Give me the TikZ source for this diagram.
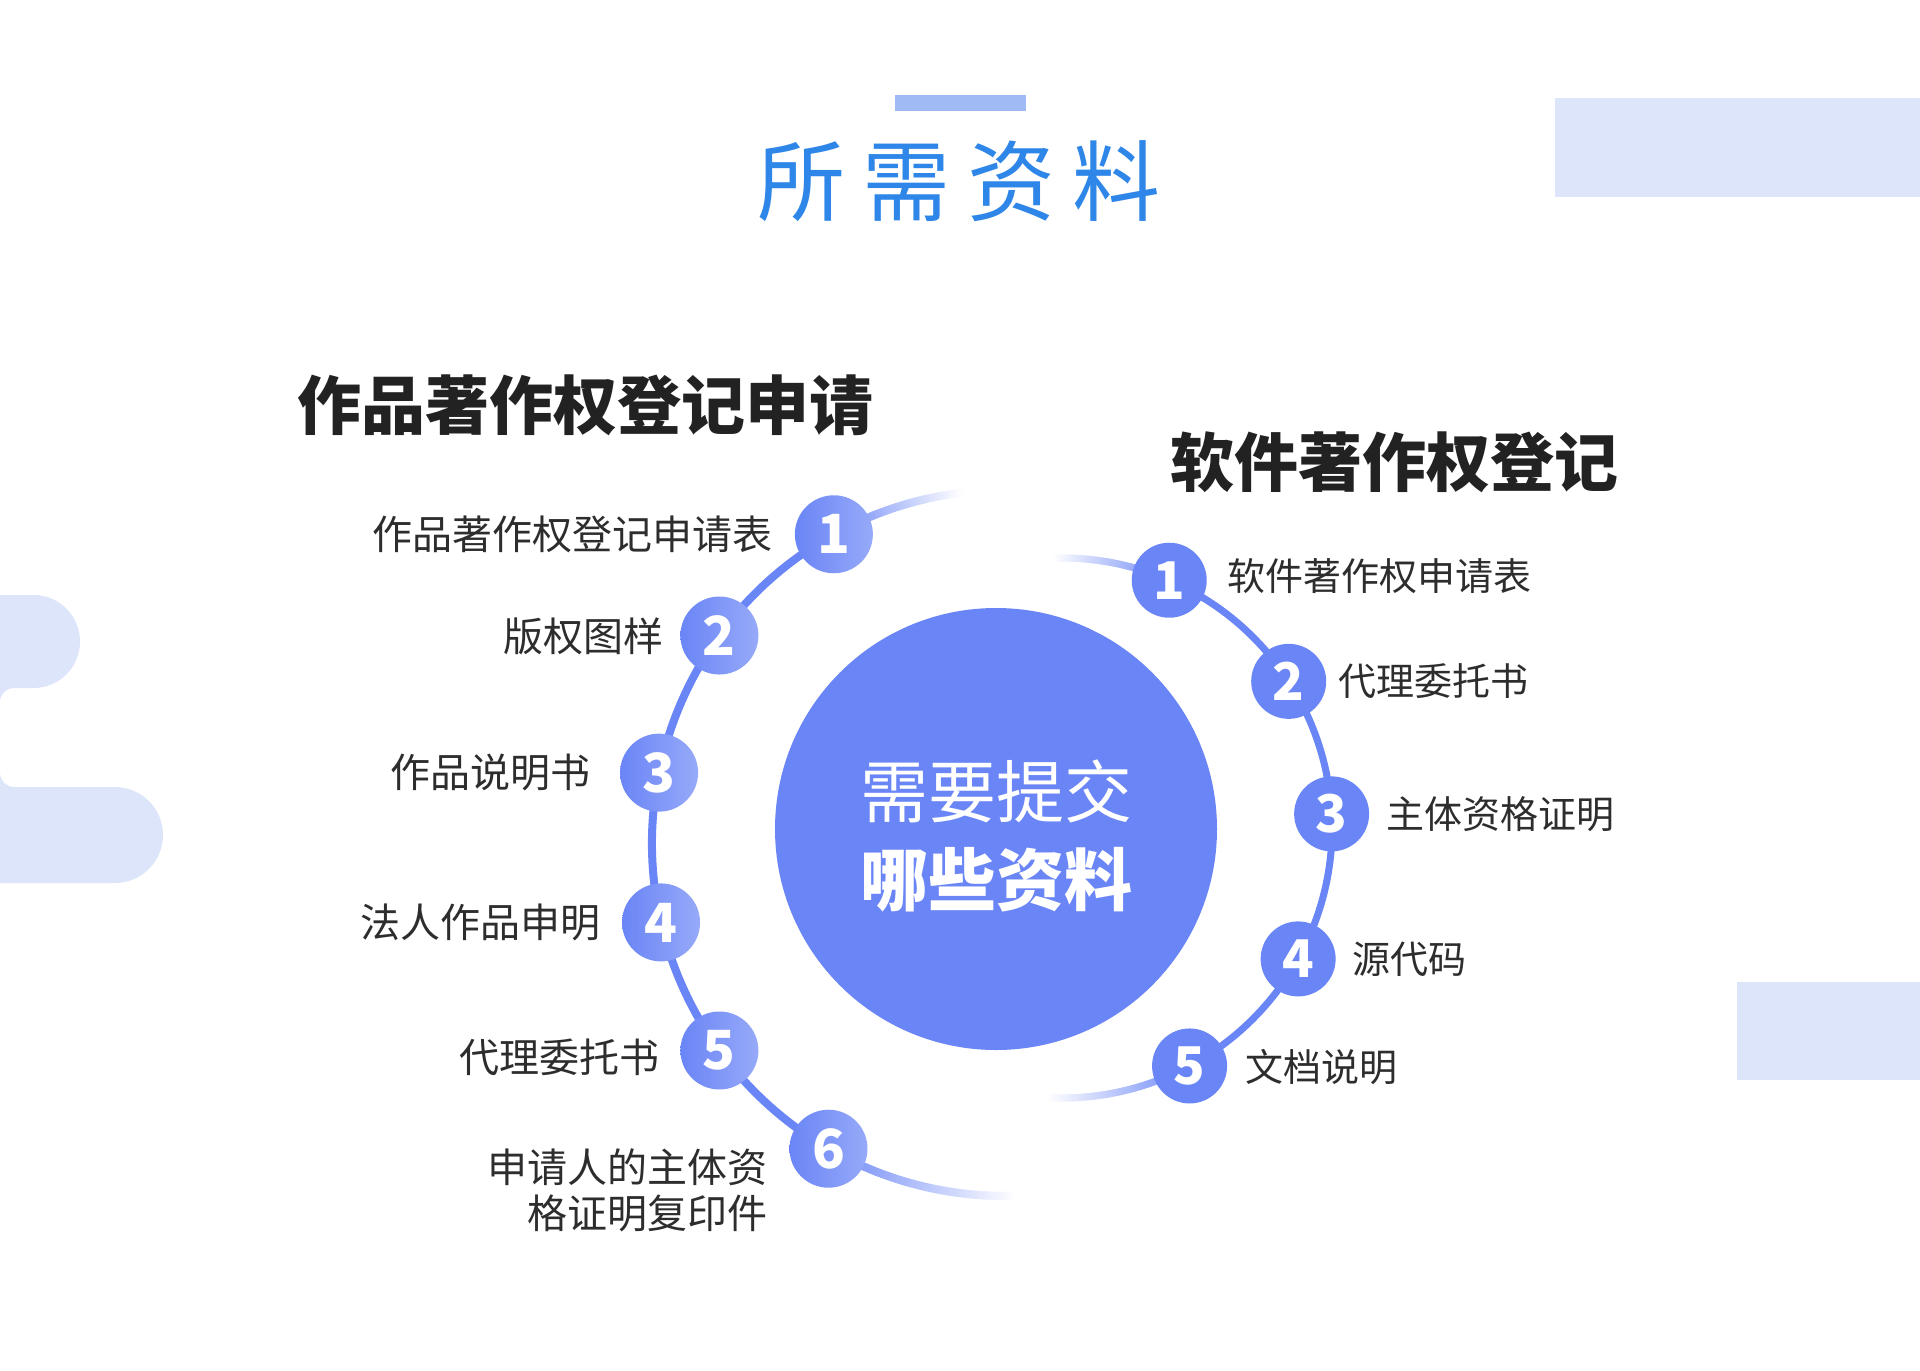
\documentclass[tikz,border=0pt]{standalone}
\usepackage{fontspec}
\setmainfont{Noto Sans CJK SC}
\newfontfamily\cjk{Noto Sans CJK SC}
\usetikzlibrary{calc}
\definecolor{mainblue}{RGB}{106,133,246}
\definecolor{titleblue}{RGB}{46,134,232}
\definecolor{barblue}{RGB}{160,186,245}
\definecolor{bgblue}{RGB}{221,229,251}
\definecolor{txt}{RGB}{45,45,45}
\definecolor{headtxt}{RGB}{34,34,34}
\tikzset{
  lbl/.style={font=\cjk\fontsize{40}{46}\selectfont, text=txt, inner sep=0pt},
  lblR/.style={font=\cjk\fontsize{38}{44}\selectfont, text=txt, inner sep=0pt},
  numL/.style={circle, minimum size=78pt, inner sep=0pt, left color=mainblue, right color=mainblue!70!white, text=white, font=\cjk\bfseries\fontsize{54}{54}\selectfont},
  numR/.style={circle, minimum size=75pt, inner sep=0pt, fill=mainblue, text=white, font=\cjk\bfseries\fontsize{52}{52}\selectfont},
  arcL/.style={draw=mainblue, line width=8pt},
  arcR/.style={draw=mainblue, line width=7pt},
  head/.style={font=\cjk\bfseries\fontsize{64}{70}\selectfont, text=headtxt, inner sep=0pt},
  bgshape/.style={fill=bgblue, draw=none}
}
\begin{document}
\begin{tikzpicture}[x=1pt,y=-1pt]
\useasboundingbox[fill=white] (0,0) rectangle (1920,1371);

% background decorations
\fill[bgshape] (1555,98) rectangle (1920,197);
\fill[bgshape] (1737,982) rectangle (1920,1080);
\fill[bgshape] (-20,595) -- (33.5,595) arc[start angle=-90, end angle=90, radius=46.5] -- (-20,688) -- cycle;
\fill[bgshape] (-20,787) -- (115,787) arc[start angle=-90, end angle=90, radius=48] -- (-20,883) -- cycle;
\fill[bgshape] (0,688) -- (14,688) arc[start angle=-90, end angle=-180, radius=14] -- cycle;
\fill[bgshape] (0,787) -- (14,787) arc[start angle=90, end angle=180, radius=14] -- cycle;

% title
\fill[barblue] (895,95) rectangle (1026,111);
\node[font=\cjk\fontsize{88}{90}\selectfont, text=titleblue, inner sep=0pt] (title) at (959,181) {所\hspace{17pt}需\hspace{17pt}资\hspace{17pt}料};

% headings
\node[head] (headL) at (585,405) {作品著作权登记申请};
\node[head] (headR) at (1394,462) {软件著作权登记};

% centers of arcs
\coordinate (CL) at (1005,843);
\coordinate (CR) at (1062,828);

% left arc main
\draw[arcL] (CL) ++(241:353) arc[start angle=241, end angle=120, radius=353];
% left arc fading tails (opaque segments mixed towards white)
\foreach \i in {0,...,43} {
  \pgfmathtruncatemacro\pc{100-(\i+0.5)*100/44}
  \draw[arcL, draw=mainblue!\pc!white] (CL) ++(241+\i*0.5:353) arc[start angle=241+\i*0.5, end angle=241.8+\i*0.5, radius=353];
}
\foreach \i in {0,...,63} {
  \pgfmathtruncatemacro\pc{100-(\i+0.5)*100/64}
  \draw[arcL, draw=mainblue!\pc!white] (CL) ++(120-\i*0.5:353) arc[start angle=120-\i*0.5, end angle=119.2-\i*0.5, radius=353];
}

% right arc main
\draw[arcR] (CR) ++(-66.6:270) arc[start angle=-66.6, end angle=61.8, radius=270];
\foreach \i in {0,...,50} {
  \pgfmathtruncatemacro\pc{100-(\i+0.5)*100/51}
  \draw[arcR, draw=mainblue!\pc!white] (CR) ++(-66.6-\i*0.5:270) arc[start angle=-66.6-\i*0.5, end angle=-67.4-\i*0.5, radius=270];
}
\foreach \i in {0,...,62} {
  \pgfmathtruncatemacro\pc{100-(\i+0.5)*100/63}
  \draw[arcR, draw=mainblue!\pc!white] (CR) ++(61.8+\i*0.5:270) arc[start angle=61.8+\i*0.5, end angle=62.6+\i*0.5, radius=270];
}

% central circle
\node[circle, fill=mainblue, minimum size=442pt, inner sep=0pt] (core) at (996,829) {};
\node[font=\cjk\fontsize{68}{70}\selectfont, text=white, inner sep=0pt] (core1) at (996,791) {需要提交};
\node[font=\cjk\bfseries\fontsize{68}{70}\selectfont, text=white, inner sep=0pt] (core2) at (996,880) {哪些资料};

% left numbered circles
\node[numL] (l1) at ($(CL)+(241:353)$) {1};
\node[numL] (l2) at ($(CL)+(216:353)$) {2};
\node[numL] (l3) at ($(CL)+(191.5:353)$) {3};
\node[numL] (l4) at ($(CL)+(167:353)$) {4};
\node[numL] (l5) at ($(CL)+(144:353)$) {5};
\node[numL] (l6) at ($(CL)+(120:353)$) {6};

% right numbered circles
\node[numR] (r1) at ($(CR)+(-66.6:270)$) {1};
\node[numR] (r2) at ($(CR)+(-32.9:270)$) {2};
\node[numR] (r3) at ($(CR)+(-3:270)$) {3};
\node[numR] (r4) at ($(CR)+(29:270)$) {4};
\node[numR] (r5) at ($(CR)+(61.8:270)$) {5};

% left labels
\node[lbl, anchor=east] (tl1) at (773,534) {作品著作权登记申请表};
\node[lbl, anchor=east] (tl2) at (664,636) {版权图样};
\node[lbl, anchor=east] (tl3) at (591,772) {作品说明书};
\node[lbl, anchor=east] (tl4) at (601,922) {法人作品申明};
\node[lbl, anchor=east] (tl5) at (660,1057) {代理委托书};
\node[lbl, anchor=east, align=right, font=\cjk\fontsize{40}{46}\selectfont] (tl6) at (768,1190) {申请人的主体资\\格证明复印件};

% right labels
\node[lblR, anchor=west] (tr1) at (1227,576) {软件著作权申请表};
\node[lblR, anchor=west] (tr2) at (1338,681) {代理委托书};
\node[lblR, anchor=west] (tr3) at (1386,814) {主体资格证明};
\node[lblR, anchor=west] (tr4) at (1352,959) {源代码};
\node[lblR, anchor=west] (tr5) at (1245,1067) {文档说明};
\end{tikzpicture}
\end{document}
